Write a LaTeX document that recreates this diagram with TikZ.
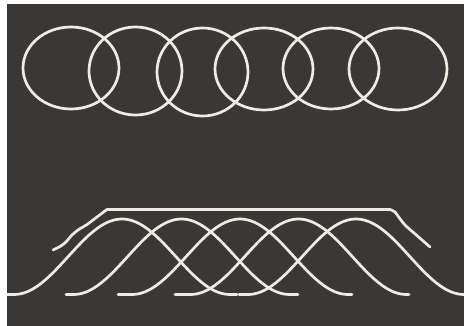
\documentclass[tikz,border=0pt]{standalone}
\definecolor{bg}{RGB}{58,56,54}
\definecolor{ln}{RGB}{240,236,228}
\begin{document}
\begin{tikzpicture}[x=1pt,y=-1pt,
  curve/.style={draw=ln, line width=2.7pt, line cap=round, line join=round}]
\useasboundingbox (0,0) rectangle (464,326);
\fill[white] (0,0) rectangle (464,326);
\fill[bg] (7,4) rectangle (464,326);
% circles
\draw[curve] (71,68) ellipse [x radius=48, y radius=41];
\draw[curve] (135.5,71) ellipse [x radius=46.5, y radius=44];
\draw[curve] (202.5,72) ellipse [x radius=45.5, y radius=44];
\draw[curve] (264,69) ellipse [x radius=49, y radius=41];
\draw[curve] (331,68.5) ellipse [x radius=48, y radius=40.5];
\draw[curve] (398,69) ellipse [x radius=49, y radius=41];
% bell curves
\def\W{108}
\foreach \p/\l/\r in {122/7/237, 181.5/66/298, 240/118/352, 298.5/175/409, 356/239/462}{
  \draw[curve] (\l,294.5) -- ({\p-\W},294.5)
    -- plot[domain=-\W:\W, samples=70] ({\p+\x},{294.5-75.5*(1+cos((\x/\W)*180))/2})
    -- (\r,294.5);
}
% envelope
\draw[curve] plot[smooth, tension=0.5] coordinates {(53,250) (60,246.5) (66,242) (71,236) (78,230) (87,224.5) (97,217) (107,209.5)}
  -- (390,209.5)
  plot[smooth, tension=0.5] coordinates {(390,209.5) (395,212) (399,217.5) (405,225) (414,233) (422,240) (430,247)};
\end{tikzpicture}
\end{document}
